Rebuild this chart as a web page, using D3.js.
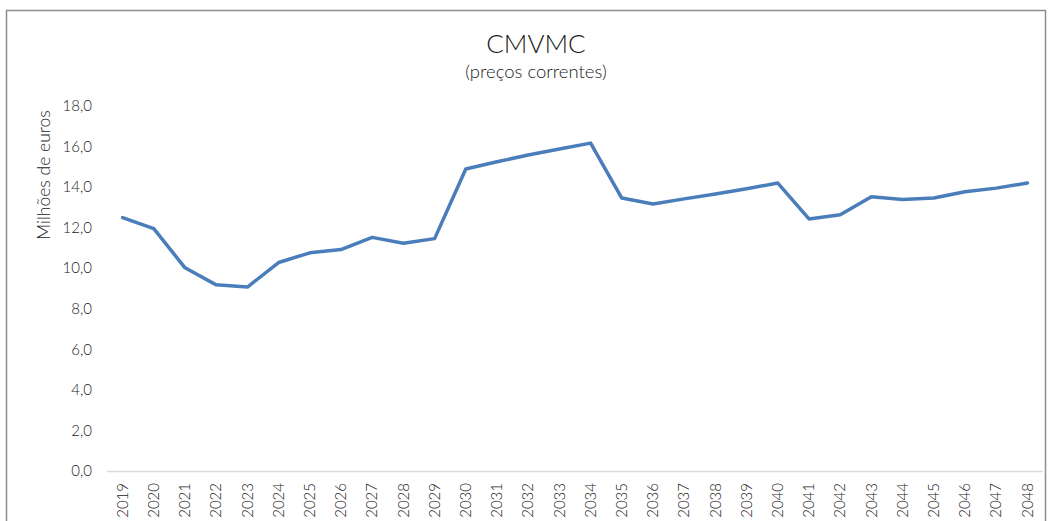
<!DOCTYPE html>
<html>
<head>
<meta charset="utf-8">
<script src="https://cdn.jsdelivr.net/npm/d3@7"></script>
<style>
  body { margin: 0; background: #fff; }
  svg { display: block; }
  text { font-family: Lato, "Open Sans", sans-serif; font-weight: 300; fill: #1a1a1a; }
</style>
</head>
<body>
<div class="graph"></div>
<script>
const width = 1051;
const height = 521;

const years = ["2019","2020","2021","2022","2023","2024","2025","2026","2027","2028",
  "2029","2030","2031","2032","2033","2034","2035","2036","2037","2038",
  "2039","2040","2041","2042","2043","2044","2045","2046","2047","2048"];
const values = [12.5, 11.95, 10.02, 9.18, 9.07, 10.28, 10.76, 10.92, 11.52, 11.23,
  11.46, 14.89, 15.25, 15.58, 15.88, 16.17, 13.46, 13.17, 13.42, 13.66,
  13.92, 14.2, 12.43, 12.64, 13.53, 13.39, 13.46, 13.77, 13.95, 14.2];
const yTicks = [0, 2, 4, 6, 8, 10, 12, 14, 16, 18];

const canvas = d3.select(".graph")
  .append("svg")
  .attr("width", width)
  .attr("height", height);

// chart frame
canvas.append("rect")
  .attr("x", 6.5)
  .attr("y", 10.5)
  .attr("width", 1039)
  .attr("height", 520)
  .attr("fill", "none")
  .attr("stroke", "#8c8c8c")
  .attr("stroke-width", 1.5);

const x = d3.scaleBand()
  .domain(years)
  .range([107, 1043]);

const y = d3.scaleLinear()
  .domain([0, 18])
  .range([471, 106]);

// y axis labels
canvas.append("g")
  .selectAll("text")
  .data(yTicks)
  .enter().append("text")
  .attr("x", 92)
  .attr("y", d => y(d))
  .attr("dy", "0.35em")
  .attr("text-anchor", "end")
  .style("font-size", "15px")
  .text(d => d3.format(".1f")(d).replace(".", ","));

// x axis line
canvas.append("line")
  .attr("x1", x.range()[0])
  .attr("x2", x.range()[1])
  .attr("y1", y(0) + 0.5)
  .attr("y2", y(0) + 0.5)
  .attr("stroke", "#d9d9d9")
  .attr("stroke-width", 1.5);

// x labels, rotated
canvas.append("g")
  .selectAll("text")
  .data(years)
  .enter().append("text")
  .attr("transform", d => `translate(${x(d) + x.bandwidth() / 2}, 483) rotate(-90)`)
  .attr("dy", "0.35em")
  .attr("text-anchor", "end")
  .style("font-size", "15px")
  .text(d => d);

// y axis title
canvas.append("text")
  .attr("transform", "translate(44, 175) rotate(-90)")
  .attr("dy", "0.35em")
  .attr("text-anchor", "middle")
  .style("font-size", "17.5px")
  .text("Milhões de euros");

// title
canvas.append("text")
  .attr("x", 536)
  .attr("y", 53)
  .attr("text-anchor", "middle")
  .style("font-size", "26px")
  .text("CMVMC");

canvas.append("text")
  .attr("x", 536)
  .attr("y", 78)
  .attr("text-anchor", "middle")
  .style("font-size", "18.5px")
  .text("(preços correntes)");

const line = d3.line()
  .x((d, i) => x(years[i]) + x.bandwidth() / 2)
  .y(d => y(d));

canvas.append("path")
  .datum(values)
  .attr("d", line)
  .attr("fill", "none")
  .attr("stroke", "#4a7ebb")
  .attr("stroke-width", 3.5)
  .attr("stroke-linejoin", "round")
  .attr("stroke-linecap", "round");
</script>
</body>
</html>
